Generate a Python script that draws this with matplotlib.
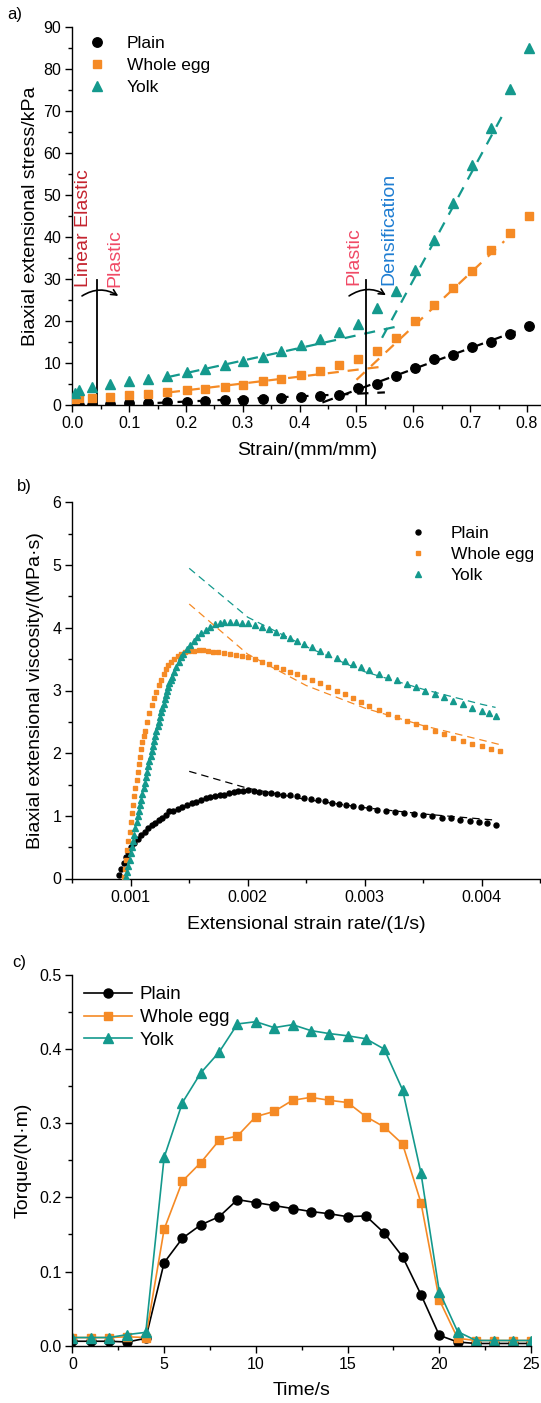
import numpy as np
import matplotlib
matplotlib.use('Agg')
import matplotlib.pyplot as plt
from matplotlib.ticker import MultipleLocator

plt.rcParams['font.family'] = ['Liberation Sans', 'DejaVu Sans']

ORANGE = '#f58a25'
TEAL = '#14998d'
names = ['Plain', 'Whole egg', 'Yolk']

# ---- a) stress vs strain
strain = [0.005, 0.012, 0.034, 0.067, 0.100, 0.134, 0.167, 0.201, 0.234, 0.268, 0.301, 0.335, 0.368,
          0.402, 0.435, 0.469, 0.502, 0.536, 0.569, 0.603, 0.636, 0.670, 0.703, 0.737, 0.770, 0.804]
stress_plain = [0.0, 0.0, 0.0, 0.2, 0.4, 0.5, 0.7, 0.8, 1.0, 1.1, 1.3, 1.5, 1.7,
                1.9, 2.1, 2.5, 4.0, 4.9, 6.9, 8.9, 10.9, 11.9, 13.9, 14.9, 16.9, 18.9]
stress_egg = [1.5, 1.6, 1.7, 2.0, 2.4, 2.6, 3.2, 3.5, 3.7, 4.3, 4.8, 5.6, 6.2,
              7.1, 8.2, 9.5, 11.0, 12.9, 15.9, 20.0, 23.8, 27.9, 31.9, 36.9, 40.9, 45.0]
stress_yolk = [2.8, 3.6, 4.3, 5.0, 5.6, 6.3, 7.0, 7.8, 8.6, 9.5, 10.5, 11.5, 12.8,
               14.2, 15.6, 17.4, 19.4, 23.2, 27.1, 32.1, 39.3, 48.2, 57.1, 66.0, 75.2, 85.0]

# fitted segments (start, end) for the plastic and densification regions
fit_plastic_x = [[0.15, 0.55], [0.17, 0.55], [0.17, 0.575]]
fit_plastic_y = [[0.5, 3.0], [3.0, 9.2], [6.7, 18.8]]
fit_dens_x = [[0.44, 0.78], [0.50, 0.76], [0.545, 0.757]]
fit_dens_y = [[0.6, 17.5], [6.0, 39.0], [16.0, 69.0]]

# ---- b) viscosity vs strain rate (x in 1e-3 1/s)
rate_plain = [0.90, 0.92, 0.94, 0.96, 0.98, 1.00, 1.03, 1.06, 1.09, 1.12, 1.15, 1.18, 1.21, 1.24, 1.27,
              1.30, 1.33, 1.36, 1.40, 1.44, 1.48, 1.52, 1.56, 1.60, 1.64, 1.68, 1.72, 1.76, 1.80, 1.84,
              1.88, 1.92, 1.96, 2.00, 2.05, 2.10, 2.15, 2.20, 2.25, 2.30, 2.36, 2.42, 2.48, 2.54, 2.60,
              2.66, 2.72, 2.78, 2.84, 2.90, 2.97, 3.04, 3.11, 3.18, 3.26, 3.34, 3.42, 3.50, 3.58, 3.66,
              3.74, 3.82, 3.90, 3.98, 4.05, 4.12]
visc_plain = [0.05, 0.15, 0.25, 0.35, 0.43, 0.50, 0.57, 0.63, 0.69, 0.75, 0.80, 0.85, 0.89, 0.93, 0.97,
              1.01, 1.07, 1.08, 1.11, 1.14, 1.17, 1.20, 1.22, 1.25, 1.28, 1.30, 1.31, 1.33, 1.34, 1.36,
              1.38, 1.39, 1.40, 1.41, 1.39, 1.38, 1.37, 1.36, 1.35, 1.34, 1.33, 1.31, 1.29, 1.27, 1.25,
              1.23, 1.21, 1.19, 1.17, 1.15, 1.14, 1.12, 1.10, 1.08, 1.06, 1.05, 1.03, 1.01, 0.99, 0.97,
              0.96, 0.94, 0.92, 0.90, 0.88, 0.86]
rate_egg = [0.94, 0.95, 0.96, 0.97, 0.98, 0.99, 1.00, 1.01, 1.02, 1.03, 1.04, 1.05, 1.06, 1.07, 1.08,
            1.09, 1.10, 1.11, 1.12, 1.14, 1.16, 1.18, 1.20, 1.22, 1.24, 1.26, 1.28, 1.30, 1.32, 1.34,
            1.37, 1.40, 1.43, 1.46, 1.50, 1.54, 1.58, 1.62, 1.66, 1.70, 1.75, 1.80, 1.85, 1.90, 1.95,
            2.00, 2.06, 2.12, 2.18, 2.24, 2.30, 2.36, 2.42, 2.48, 2.55, 2.62, 2.69, 2.76, 2.83, 2.90,
            2.97, 3.04, 3.12, 3.20, 3.28, 3.36, 3.44, 3.52, 3.60, 3.68, 3.76, 3.84, 3.92, 4.00, 4.08, 4.16]
visc_egg = [0.02, 0.15, 0.30, 0.45, 0.60, 0.75, 0.90, 1.04, 1.18, 1.31, 1.44, 1.57, 1.70, 1.82, 1.94,
            2.06, 2.18, 2.27, 2.36, 2.50, 2.64, 2.77, 2.88, 2.98, 3.08, 3.17, 3.26, 3.34, 3.41, 3.46,
            3.51, 3.55, 3.58, 3.61, 3.63, 3.63, 3.64, 3.64, 3.63, 3.62, 3.61, 3.60, 3.58, 3.57, 3.55,
            3.54, 3.50, 3.46, 3.42, 3.38, 3.34, 3.30, 3.26, 3.22, 3.17, 3.12, 3.06, 3.00, 2.94, 2.88,
            2.82, 2.76, 2.69, 2.63, 2.57, 2.52, 2.46, 2.41, 2.36, 2.30, 2.25, 2.20, 2.15, 2.11, 2.07, 2.03]
rate_yolk = [0.96, 0.97, 0.98, 0.99, 1.00, 1.01, 1.02, 1.03, 1.04, 1.05, 1.06, 1.07, 1.08, 1.09, 1.10,
             1.11, 1.12, 1.13, 1.14, 1.15, 1.16, 1.17, 1.18, 1.19, 1.20, 1.21, 1.22, 1.23, 1.24, 1.25,
             1.26, 1.27, 1.28, 1.29, 1.30, 1.31, 1.32, 1.33, 1.34, 1.35, 1.37, 1.39, 1.41, 1.43, 1.45,
             1.48, 1.51, 1.54, 1.57, 1.60, 1.64, 1.68, 1.72, 1.76, 1.80, 1.85, 1.90, 1.95, 2.00, 2.06,
             2.12, 2.18, 2.24, 2.30, 2.36, 2.42, 2.48, 2.55, 2.62, 2.69, 2.76, 2.83, 2.90, 2.97, 3.04,
             3.12, 3.20, 3.28, 3.36, 3.44, 3.52, 3.60, 3.68, 3.76, 3.84, 3.92, 4.00, 4.06, 4.12]
visc_yolk = [0.02, 0.10, 0.20, 0.30, 0.40, 0.50, 0.60, 0.70, 0.80, 0.90, 1.00, 1.08, 1.17, 1.26, 1.35,
             1.44, 1.53, 1.62, 1.70, 1.79, 1.87, 1.95, 2.03, 2.11, 2.19, 2.27, 2.35, 2.43, 2.50, 2.58,
             2.65, 2.72, 2.79, 2.86, 2.93, 3.00, 3.06, 3.12, 3.17, 3.22, 3.30, 3.38, 3.46, 3.53, 3.59,
             3.67, 3.73, 3.79, 3.85, 3.91, 3.97, 4.02, 4.06, 4.08, 4.09, 4.09, 4.09, 4.08, 4.07, 4.05,
             4.02, 3.98, 3.94, 3.89, 3.84, 3.79, 3.74, 3.69, 3.63, 3.58, 3.52, 3.47, 3.42, 3.37, 3.32,
             3.27, 3.22, 3.17, 3.11, 3.05, 3.00, 2.94, 2.89, 2.84, 2.78, 2.72, 2.67, 2.64, 2.60]

# power-law fits (dashed)
fit_rate = [[1.5, 2.0, 2.5, 3.0, 3.5, 4.0, 4.13],
            [1.5, 2.0, 2.5, 3.0, 3.5, 4.0, 4.15],
            [1.5, 2.0, 2.5, 3.0, 3.5, 4.0, 4.12]]
fit_visc = [[1.71, 1.44, 1.26, 1.13, 1.03, 0.95, 0.93],
            [4.38, 3.58, 3.08, 2.72, 2.44, 2.21, 2.14],
            [4.95, 4.17, 3.70, 3.30, 3.02, 2.78, 2.73]]

# ---- c) torque vs time
time_s = list(range(26))
torque_plain = [0.006, 0.006, 0.006, 0.005, 0.010, 0.112, 0.145, 0.163, 0.174, 0.197, 0.193, 0.189, 0.185,
                0.181, 0.178, 0.174, 0.175, 0.152, 0.120, 0.069, 0.014, 0.005, 0.003, 0.003, 0.003, 0.003]
torque_egg = [0.011, 0.011, 0.011, 0.012, 0.011, 0.157, 0.222, 0.247, 0.277, 0.283, 0.309, 0.316, 0.331,
              0.335, 0.331, 0.328, 0.309, 0.295, 0.272, 0.193, 0.062, 0.010, 0.007, 0.007, 0.007, 0.007]
torque_yolk = [0.011, 0.011, 0.011, 0.015, 0.018, 0.254, 0.328, 0.368, 0.396, 0.434, 0.437, 0.429, 0.433,
               0.425, 0.421, 0.418, 0.414, 0.400, 0.345, 0.233, 0.073, 0.019, 0.007, 0.007, 0.007, 0.007]

W, H = 541, 1403
fig = plt.figure(figsize=(W / 100, H / 100), dpi=100)


def style_axes(ax):
    for s in ['top', 'right']:
        ax.spines[s].set_visible(False)
    for s in ['left', 'bottom']:
        ax.spines[s].set_linewidth(1.0)
    ax.tick_params(which='major', direction='out', length=5, width=1.0, labelsize=11.5, pad=3)
    ax.tick_params(which='minor', direction='out', length=3, width=1.0)


# ---------- panel a
ax1 = fig.add_axes([72.3 / W, 1 - 405 / H, 0.8667, (405 - 27) / H])
style_axes(ax1)
cols = ['black', ORANGE, TEAL]
marks = ['o', 's', '^']
sizes = [6.8, 6, 7.5]
for ys, c, m, ms, n in zip([stress_plain, stress_egg, stress_yolk], cols, marks, sizes, names):
    ax1.plot(strain, ys, ls='none', marker=m, ms=ms, color=c, mec=c, label=n, zorder=3)
for i, c in enumerate(cols):
    ax1.plot(fit_plastic_x[i], fit_plastic_y[i], ls=(0, (5, 4)), lw=1.6, color=c, zorder=2)
    ax1.plot(fit_dens_x[i], fit_dens_y[i], ls=(0, (5, 4)), lw=1.6, color=c, zorder=2)

ax1.plot([0.044, 0.044], [0, 29.8], color='black', lw=1.3)
ax1.plot([0.517, 0.517], [0, 29.8], color='black', lw=1.3)
ax1.annotate('', xy=(0.085, 25.6), xytext=(0.013, 25.6),
             arrowprops=dict(arrowstyle='->', connectionstyle='arc3,rad=-0.35', lw=1.2, color='black'))
ax1.annotate('', xy=(0.556, 25.8), xytext=(0.483, 25.6),
             arrowprops=dict(arrowstyle='->', connectionstyle='arc3,rad=-0.35', lw=1.2, color='black'))
ax1.text(0.019, 28.2, 'Linear Elastic', rotation=90, ha='center', va='bottom', fontsize=14, color='#c4242f')
ax1.text(0.075, 28.2, 'Plastic', rotation=90, ha='center', va='bottom', fontsize=14, color='#f04a66')
ax1.text(0.495, 28.6, 'Plastic', rotation=90, ha='center', va='bottom', fontsize=14, color='#f04a66')
ax1.text(0.557, 28.6, 'Densification', rotation=90, ha='center', va='bottom', fontsize=14, color='#1e7dd2')

ax1.set_xlim(0, 0.825)
ax1.set_ylim(0, 90)
ax1.xaxis.set_major_locator(MultipleLocator(0.1))
ax1.xaxis.set_minor_locator(MultipleLocator(0.05))
ax1.yaxis.set_major_locator(MultipleLocator(10))
ax1.yaxis.set_minor_locator(MultipleLocator(5))
ax1.xaxis.set_major_formatter(lambda v, p: f'{v:.1f}')
ax1.set_xlabel('Strain/(mm/mm)', fontsize=14, labelpad=8)
ax1.set_ylabel('Biaxial extensional stress/kPa', fontsize=14, labelpad=3)
ax1.legend(loc='upper left', bbox_to_anchor=(0.005, 1.008), frameon=False, fontsize=12.5,
           handlelength=1.2, handletextpad=1.1, labelspacing=0.38, borderaxespad=0.3)

# ---------- panel b
ax2 = fig.add_axes([72.3 / W, 1 - 878.5 / H, 0.8645, (878.5 - 502.5) / H])
style_axes(ax2)
bsizes = [3.6, 3.4, 4.5]
for xs, ys, c, m, ms, n in zip([rate_plain, rate_egg, rate_yolk], [visc_plain, visc_egg, visc_yolk],
                               cols, marks, bsizes, names):
    ax2.plot(np.array(xs) * 1e-3, ys, ls='none', marker=m, ms=ms, color=c, mec=c, label=n, zorder=3)
for i, c in enumerate(cols):
    ax2.plot(np.array(fit_rate[i]) * 1e-3, fit_visc[i], ls=(0, (6, 4)), lw=0.9, color=c, zorder=4)
ax2.set_xlim(0.0005, 0.0045)
ax2.set_ylim(0, 6)
ax2.xaxis.set_major_locator(MultipleLocator(0.001))
ax2.xaxis.set_minor_locator(MultipleLocator(0.0005))
ax2.yaxis.set_major_locator(MultipleLocator(1))
ax2.yaxis.set_minor_locator(MultipleLocator(0.5))
ax2.xaxis.set_major_formatter(lambda v, p: '' if v < 0.0009 else f'{v:.3f}')
ax2.set_xlabel('Extensional strain rate/(1/s)', fontsize=14, labelpad=8)
ax2.set_ylabel('Biaxial extensional viscosity/(MPa·s)', fontsize=14, labelpad=6)
ax2.legend(loc='upper right', bbox_to_anchor=(1.02, 0.98), frameon=False, fontsize=12.5,
           handlelength=1.0, handletextpad=1.4, labelspacing=0.35, markerscale=1.0)

# ---------- panel c
ax3 = fig.add_axes([72.4 / W, 1 - 1345.7 / H, (531 - 72.4) / W, (1345.7 - 975) / H])
style_axes(ax3)
csizes = [6.5, 6, 7]
for ys, c, m, ms, n in zip([torque_plain, torque_egg, torque_yolk], cols, marks, csizes, names):
    ax3.plot(time_s, ys, marker=m, ms=ms, color=c, mec=c, lw=1.2, label=n)
ax3.set_xlim(0, 25)
ax3.set_ylim(0, 0.5)
ax3.xaxis.set_major_locator(MultipleLocator(5))
ax3.xaxis.set_minor_locator(MultipleLocator(2.5))
ax3.yaxis.set_major_locator(MultipleLocator(0.1))
ax3.yaxis.set_minor_locator(MultipleLocator(0.05))
ax3.yaxis.set_major_formatter(lambda v, p: f'{v:.1f}')
ax3.set_xlabel('Time/s', fontsize=14, labelpad=7)
ax3.set_ylabel('Torque/(N·m)', fontsize=14, labelpad=5)
ax3.legend(loc='upper left', bbox_to_anchor=(0.0, 1.0), frameon=False, fontsize=13.5,
           handlelength=2.6, handletextpad=0.4, labelspacing=0.3, borderaxespad=0.2)

fig.text(15 / W, 1 - 15 / H, 'a)', fontsize=12, ha='center', va='center')
fig.text(24 / W, 1 - 487 / H, 'b)', fontsize=12, ha='center', va='center')
fig.text(19 / W, 1 - 963 / H, 'c)', fontsize=12, ha='center', va='center')

fig.savefig('out.png', dpi=100)
